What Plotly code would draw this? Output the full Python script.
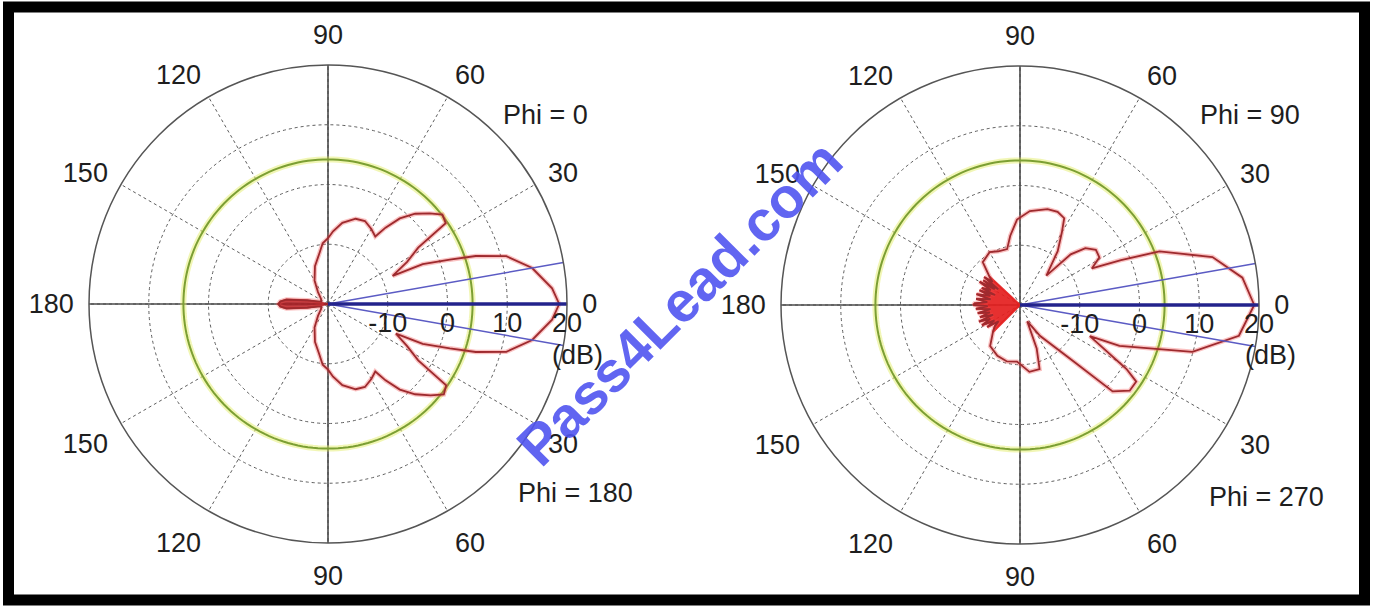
import plotly.graph_objects as go

W, H = 1373, 607

# ---------------- data ----------------
ANGLE_TICKS = [0, 30, 60, 90, 120, 150, 180, 210, 240, 270, 300, 330]
ANGLE_LABELS = ["0", "30", "60", "90", "120", "150", "180", "150", "120", "90", "60", "30"]
R_TICKS = [-10, 0, 10, 20]
R_MIN, R_MAX = -20, 20

# Phi = 0 / 180 cut (degrees, dB)
LEFT_THETA = [0, 4, 10, 15, 18, 20, 22.8, 23.5, 28, 32, 34.5, 38, 41.7, 46, 50, 53, 55,
              60, 66, 72, 80, 86, 90, 95, 100, 109, 120, 130, 145, 160, 170, 174, 177, 180,
              183, 186, 190, 200, 215, 230, 240, 251, 260, 265, 270, 274, 280, 288, 294,
              300, 305, 307, 310, 314, 318.3, 322, 325.5, 328, 332, 336.5, 337.2, 340,
              342, 345, 350, 356, 360]
LEFT_GAIN = [18.7, 17.6, 14.7, 10.9, 6.0, 1.7, -2.8, -8.2, -5.0, -2.2, 3.9, 4.3, 2.8, 1.0,
             -1.3, -4.0, -6.2, -5.5, -4.8, -5.0, -6.2, -7.8, -9.0, -9.8, -11.5, -13.3,
             -15.5, -17.4, -18.6, -18.8, -16.5, -13.0, -12.0, -11.7, -12.0, -13.0, -16.5,
             -18.8, -18.6, -17.4, -15.5, -13.3, -11.5, -9.8, -9.0, -7.8, -6.2, -5.0, -4.8,
             -5.5, -6.2, -4.0, -1.3, 1.0, 3.0, 4.6, 4.0, -2.2, -5.0, -7.6, -2.8, 1.7, 6.0,
             10.9, 14.7, 17.6, 18.7]
LEFT_SPIKE_SPAN = (168, 192)   # back-lobe spike drawn filled

# Phi = 90 / 270 cut (degrees, dB)
RIGHT_THETA = [0, 7, 14, 21, 24, 27, 31, 36, 41, 45, 48, 55, 60, 63, 68, 74, 84, 92, 98,
               103, 112, 120, 131, 137, 140, 142, 144, 146, 148, 150, 153, 156, 158, 160,
               163, 166, 169, 172, 175, 178, 180, 182, 185, 188, 191, 194, 197, 200, 202,
               205, 208, 211, 214, 217, 220, 225, 234, 246, 257, 267, 278, 287, 291, 294,
               303, 313, 317, 322, 326.6, 329, 336, 337.7, 344.8, 352, 360]
RIGHT_GAIN = [19.2, 17.5, 13.2, 5.0, -1.5, -6.5, -4.5, -4.3, -5.5, -8.0, -13.4, -9.0, -6.0,
              -3.7, -3.2, -3.3, -4.2, -5.7, -8.3, -10.4, -10.3, -9.8, -10.5, -13.0, -14.0,
              -12.4, -15.5, -12.6, -15.0, -12.2, -14.5, -13.0, -15.5, -12.8, -14.8, -12.5,
              -15.0, -12.6, -14.5, -12.4, -12.2, -14.6, -12.6, -15.0, -12.8, -14.8, -13.0,
              -15.2, -12.6, -14.5, -12.8, -15.0, -13.4, -15.5, -14.5, -13.6, -11.5, -10.7,
              -10.3, -10.5, -8.7, -8.8, -12.2, -17.0, -13.8, -7.7, 1.2, 3.3, 3.3, 0.8,
              -7.2, -2.0, 9.9, 17.0, 19.2]
RIGHT_SPIKE_SPAN = (137, 225)  # dense spiky region drawn filled

GREEN_LEVEL = 4.2             # dB reference circle
MAIN_BEAM_ANGLE = 0           # thick blue line
BEAM_EDGE_ANGLES = [10, -10]  # thin blue lines
CIRCLE_THETA = list(range(0, 361, 2))

SUBPLOTS = [
    dict(name="polar", theta=LEFT_THETA, gain=LEFT_GAIN, span=LEFT_SPIKE_SPAN,
         fill="rgba(170,30,35,0.9)",
         domain_x=[89 / W, 567 / W], domain_y=[(H - 543) / H, (H - 65) / H],
         labels=[("Phi = 0", 545, 115), ("Phi = 180", 575, 493), ("(dB)", 577, 355)]),
    dict(name="polar2", theta=RIGHT_THETA, gain=RIGHT_GAIN, span=RIGHT_SPIKE_SPAN,
         fill="rgba(228,30,30,0.92)",
         domain_x=[781 / W, 1259 / W], domain_y=[(H - 544) / H, (H - 66) / H],
         labels=[("Phi = 90", 1250, 115), ("Phi = 270", 1266, 497), ("(dB)", 1270, 355)]),
]

FONT = "Liberation Sans, Arial, sans-serif"
TXT = "#1e1e1e"

fig = go.Figure()
layout = {}
annotations = []

for sp in SUBPLOTS:
    s = sp["name"]
    # solid cross axes
    fig.add_trace(go.Scatterpolar(r=[R_MAX, R_MIN, R_MAX], theta=[180, 180, 0], mode="lines",
                                  line=dict(color="#4a4a4a", width=1.6), subplot=s,
                                  hoverinfo="skip"))
    fig.add_trace(go.Scatterpolar(r=[R_MAX, R_MIN, R_MAX], theta=[90, 90, 270], mode="lines",
                                  line=dict(color="#4a4a4a", width=1.6), subplot=s,
                                  hoverinfo="skip"))
    # green reference circle (glow + line)
    fig.add_trace(go.Scatterpolar(r=[GREEN_LEVEL] * len(CIRCLE_THETA), theta=CIRCLE_THETA,
                                  mode="lines", line=dict(color="rgba(225,235,90,0.45)", width=6),
                                  subplot=s, hoverinfo="skip"))
    fig.add_trace(go.Scatterpolar(r=[GREEN_LEVEL] * len(CIRCLE_THETA), theta=CIRCLE_THETA,
                                  mode="lines", line=dict(color="#7c9f33", width=2),
                                  subplot=s, hoverinfo="skip"))
    # filled spiky region near the centre
    lo, hi = sp["span"]
    idx = [i for i, t in enumerate(sp["theta"]) if lo <= t <= hi]
    fr = [R_MIN] + [sp["gain"][i] for i in idx] + [R_MIN]
    ft = [lo] + [sp["theta"][i] for i in idx] + [hi]
    fig.add_trace(go.Scatterpolar(r=fr, theta=ft, mode="lines", fill="toself",
                                  fillcolor=sp["fill"], line=dict(color=sp["fill"], width=2),
                                  subplot=s, hoverinfo="skip"))
    # red pattern (glow + line)
    fig.add_trace(go.Scatterpolar(r=sp["gain"], theta=sp["theta"], mode="lines",
                                  line=dict(color="rgba(240,80,80,0.35)", width=4.5),
                                  subplot=s, hoverinfo="skip"))
    fig.add_trace(go.Scatterpolar(r=sp["gain"], theta=sp["theta"], mode="lines",
                                  line=dict(color="#9e2a2e", width=1.8),
                                  subplot=s, hoverinfo="skip"))
    # blue beam lines
    for a in BEAM_EDGE_ANGLES:
        fig.add_trace(go.Scatterpolar(r=[R_MIN, R_MAX], theta=[a, a], mode="lines",
                                      line=dict(color="#5b5bc4", width=1.5), subplot=s,
                                      hoverinfo="skip"))
    fig.add_trace(go.Scatterpolar(r=[R_MIN, R_MAX], theta=[MAIN_BEAM_ANGLE, MAIN_BEAM_ANGLE],
                                  mode="lines", line=dict(color="#23238c", width=3.5),
                                  subplot=s, hoverinfo="skip"))

    layout[s] = dict(
        domain=dict(x=sp["domain_x"], y=sp["domain_y"]),
        bgcolor="white",
        angularaxis=dict(
            direction="counterclockwise", rotation=0,
            tickmode="array", tickvals=ANGLE_TICKS, ticktext=ANGLE_LABELS,
            showline=True, linecolor="#555555", linewidth=1.5,
            showgrid=True, gridcolor="#5e5e5e", gridwidth=1, griddash="dot",
            ticks="outside", ticklen=9, tickcolor="rgba(0,0,0,0)",
            tickfont=dict(family=FONT, size=27, color=TXT),
        ),
        radialaxis=dict(
            range=[R_MIN, R_MAX], tickmode="array", tickvals=R_TICKS,
            ticktext=[str(v) for v in R_TICKS], angle=0, side="clockwise",
            showline=False, ticks="",
            showgrid=True, gridcolor="#5e5e5e", gridwidth=1, griddash="dot",
            tickfont=dict(family=FONT, size=27, color=TXT), tickangle=0,
        ),
    )
    for text, px, py in sp["labels"]:
        annotations.append(dict(text=text, x=px / W, y=1 - py / H, xref="paper", yref="paper",
                                showarrow=False, xanchor="center", yanchor="middle",
                                font=dict(family=FONT, size=27, color=TXT)))

# watermark
annotations.append(dict(text="<b>Pass4Lead.com</b>", x=679 / W, y=1 - 303 / H,
                        xref="paper", yref="paper", showarrow=False, textangle=-45,
                        xanchor="center", yanchor="middle",
                        font=dict(family=FONT, size=57, color="rgba(80,84,240,0.9)")))

fig.update_layout(
    width=W, height=H, margin=dict(l=0, r=0, t=0, b=0),
    paper_bgcolor="white", plot_bgcolor="white", showlegend=False,
    annotations=annotations,
    shapes=[dict(type="rect", xref="paper", yref="paper",
                 x0=8.5 / W, x1=1364.5 / W, y0=1 - 600 / H, y1=1 - 7 / H,
                 line=dict(color="black", width=11), fillcolor="rgba(0,0,0,0)", layer="above")],
    **layout,
)

fig.write_html("out.html", config={"displayModeBar": False},
               post_script="document.body.style.margin='0px';document.body.style.overflow='hidden';")
